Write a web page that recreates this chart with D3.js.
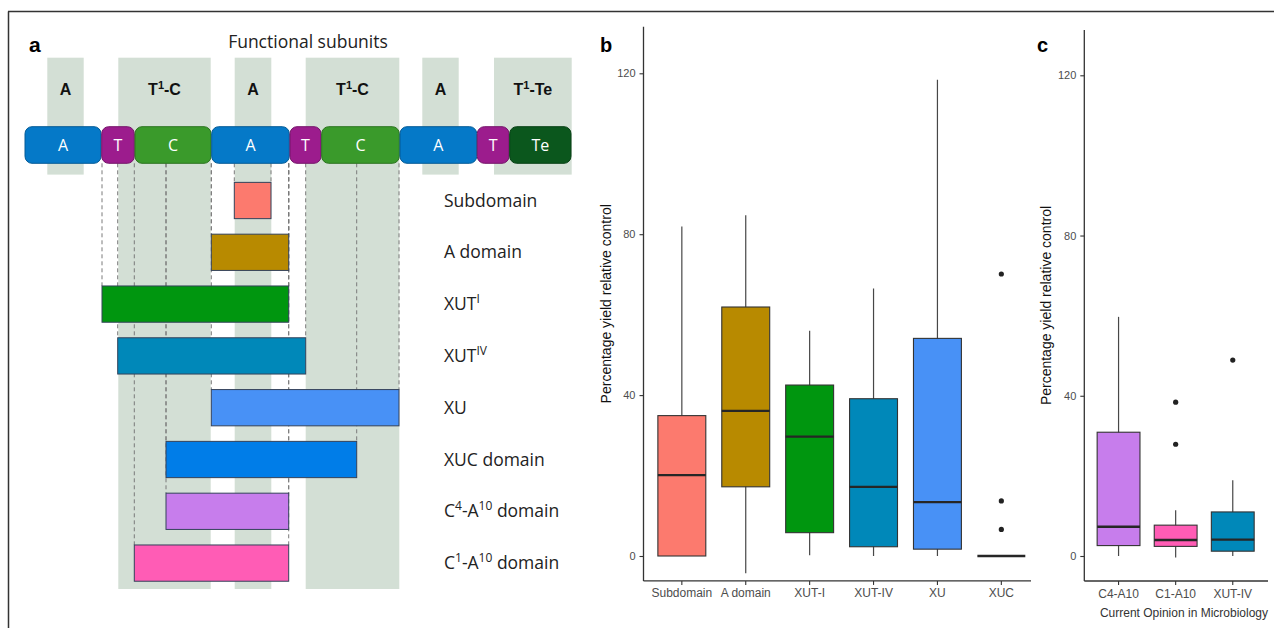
<!DOCTYPE html>
<html lang="en">
<head>
<meta charset="utf-8">
<title>subunit swaps</title>
<script src="https://d3js.org/d3.v7.min.js"></script>
<style>
  body { margin: 0; background: #fff; }
  .sans { font-family: "Open Sans", "Noto Sans", sans-serif; }
  .arial { font-family: "Liberation Sans", Arial, sans-serif; }
</style>
</head>
<body>
<div id="chart"></div>
<script>
var width = 1274, height = 628;

// ---- panel a data (positions along the assembly line, arbitrary units) ----
var partNames  = ["A", "T", "C", "A", "T", "C", "A", "T", "Te"];
var partStart  = [0, 76.7, 110, 186.7, 265, 296.7, 375, 452.3, 484.7];
var partEnd    = [76, 109.3, 186, 264.3, 296, 374.3, 451.7, 484, 546];
var partColors = {A: "#0579c8", T: "#9c1c8d", C: "#3a9a2b", Te: "#0b571d"};

var subunitNames = [[["A"]], [["T"], ["1", 1], ["-C"]], [["A"]], [["T"], ["1", 1], ["-C"]], [["A"]], [["T"], ["1", 1], ["-Te"]]];
var subunitStart = [22.3, 93.3, 209.7, 280.7, 397.3, 469];
var subunitEnd   = [58.7, 185.7, 246.3, 374.3, 433.7, 546.7];
var subunitLong  = [false, true, true, true, false, false];

var constructs = ["Subdomain", "A domain", "XUT-I", "XUT-IV", "XU", "XUC domain", "C4-A10 domain", "C1-A10 domain"];
var constructLabels = [
  [["Subdomain"]], [["A domain"]], [["XUT"], ["I", 1]], [["XUT"], ["IV", 1]], [["XU"]],
  [["XUC domain"]], [["C"], ["4", 1], ["-A"], ["10", 1], [" domain"]], [["C"], ["1", 1], ["-A"], ["10", 1], [" domain"]]
];
var constructStart  = [209.3, 186.3, 77, 92.7, 186.3, 141, 141, 109.3];
var constructEnd    = [246, 263.7, 263.7, 280.7, 374, 331.7, 263.7, 263.7];
var constructColors = ["#fc7a6e", "#b88a00", "#00960f", "#0088b9", "#4891f6", "#007de8", "#c77dec", "#ff5cb5"];

// ---- panel b data ----
var catsB   = ["Subdomain", "A domain", "XUT-I", "XUT-IV", "XU", "XUC"];
var lowB    = [0, -4.3, 0.2, 0, 0, 0];
var q1B     = [0, 17.2, 5.8, 2.3, 1.7, 0];
var medB    = [20.1, 36.1, 29.7, 17.2, 13.4, 0];
var q3B     = [34.9, 61.9, 42.5, 39.1, 54.1, 0];
var highB   = [81.9, 84.7, 56.0, 66.5, 118.4, 0];
var outB    = [[], [], [], [], [], [70.1, 13.7, 6.6]];
var colorsB = ["#fc7a6e", "#b88a00", "#00960f", "#0088b9", "#4891f6", "#4891f6"];

// ---- panel c data ----
var catsC   = ["C4-A10", "C1-A10", "XUT-IV"];
var lowC    = [0, -0.4, 0];
var q1C     = [2.6, 2.4, 1.2];
var medC    = [7.3, 4.0, 4.1];
var q3C     = [30.9, 7.7, 11.0];
var highC   = [59.7, 11.4, 18.9];
var outC    = [[], [38.4, 27.9], [48.9]];
var colorsC = ["#c77dec", "#ff5cb5", "#0088b9"];

var yTicks = [0, 40, 80, 120];

var svg = d3.select("#chart").append("svg")
  .attr("width", width).attr("height", height);

// outer frame (top and left rule)
svg.append("line").attr("x1", 8).attr("x2", width).attr("y1", 11.5).attr("y2", 11.5)
  .attr("stroke", "#333").attr("stroke-width", 1.5);
svg.append("line").attr("x1", 8.5).attr("x2", 8.5).attr("y1", 11.5).attr("y2", height)
  .attr("stroke", "#333").attr("stroke-width", 1.5);

// helper for text with superscripts
function richText(sel, parts, supSize, shift) {
  var prev = 0;
  parts.forEach(function(p) {
    var cur = p[1] ? -shift : 0;
    var t = sel.append("tspan").text(p[0]).attr("dy", cur - prev);
    if (p[1]) t.attr("font-size", supSize);
    prev = cur;
  });
}

// ================= panel a =================
var ax = d3.scaleLinear().domain([0, 546]).range([25, 571]);
var rowY = d3.scaleBand().domain(constructs).range([174.6, 589]).paddingInner(0.3).paddingOuter(0.15);
var pillTop = 126.7, pillBottom = 163.3, colTop = 57.7;

var ga = svg.append("g");

ga.selectAll("rect.col").data(subunitNames).enter().append("rect")
  .attr("class", "col")
  .attr("x", function(d, i) { return ax(subunitStart[i]); })
  .attr("width", function(d, i) { return ax(subunitEnd[i]) - ax(subunitStart[i]); })
  .attr("y", colTop)
  .attr("height", function(d, i) { return (subunitLong[i] ? rowY.range()[1] : rowY.range()[0]) - colTop; })
  .attr("fill", "#d3dfd5");

ga.selectAll("text.col").data(subunitNames).enter().append("text")
  .attr("class", "arial")
  .attr("x", function(d, i) { return (ax(subunitStart[i]) + ax(subunitEnd[i])) / 2; })
  .attr("y", 95)
  .attr("text-anchor", "middle")
  .attr("font-size", 16).attr("font-weight", "bold").attr("fill", "#111")
  .each(function(d) { richText(d3.select(this), d, 11, 6); });

// dashed guide lines from the module down to each construct
constructs.forEach(function(c, i) {
  [constructStart[i], constructEnd[i]].forEach(function(v) {
    ga.append("line")
      .attr("x1", ax(v)).attr("x2", ax(v))
      .attr("y1", pillBottom).attr("y2", rowY(c))
      .attr("stroke", "#7a7a7a").attr("stroke-width", 1).attr("stroke-dasharray", "4,3");
  });
});

// module pills
ga.selectAll("rect.part").data(partNames).enter().append("rect")
  .attr("x", function(d, i) { return ax(partStart[i]); })
  .attr("width", function(d, i) { return ax(partEnd[i]) - ax(partStart[i]); })
  .attr("y", pillTop).attr("height", pillBottom - pillTop)
  .attr("rx", 7).attr("ry", 7)
  .attr("fill", function(d) { return partColors[d]; })
  .attr("stroke", function(d) { return d3.color(partColors[d]).darker(0.8); })
  .attr("stroke-width", 1);

ga.selectAll("text.part").data(partNames).enter().append("text")
  .attr("class", "sans")
  .attr("x", function(d, i) { return (ax(partStart[i]) + ax(partEnd[i])) / 2; })
  .attr("y", (pillTop + pillBottom) / 2 + 6)
  .attr("text-anchor", "middle").attr("font-size", 16).attr("fill", "#fff")
  .text(function(d) { return d; });

// construct bars
ga.selectAll("rect.con").data(constructs).enter().append("rect")
  .attr("x", function(d, i) { return ax(constructStart[i]); })
  .attr("width", function(d, i) { return ax(constructEnd[i]) - ax(constructStart[i]); })
  .attr("y", function(d) { return rowY(d); })
  .attr("height", rowY.bandwidth())
  .attr("fill", function(d, i) { return constructColors[i]; })
  .attr("stroke", "#34425a").attr("stroke-width", 1);

ga.selectAll("text.con").data(constructs).enter().append("text")
  .attr("class", "sans")
  .attr("x", 444)
  .attr("y", function(d) { return rowY(d) + rowY.bandwidth() / 2 + 6; })
  .attr("font-size", 17.5).attr("fill", "#222")
  .each(function(d, i) { richText(d3.select(this), constructLabels[i], 12, 7); });

ga.append("text").attr("class", "sans")
  .attr("x", 308).attr("y", 48).attr("text-anchor", "middle")
  .attr("font-size", 17.5).attr("fill", "#222")
  .text("Functional subunits");

svg.append("text").attr("class", "arial").attr("x", 29).attr("y", 52)
  .attr("font-size", 21).attr("font-weight", "bold").text("a");

// ================= panels b and c =================
function boxPanel(o) {
  var x = d3.scaleBand().domain(o.cats).range(o.xr).paddingInner(0).paddingOuter(0.1);
  var y = d3.scaleLinear().domain([0, 120]).range(o.yr);
  var bw = x.bandwidth() * 0.75;
  var cx = function(d) { return x(d) + x.bandwidth() / 2; };
  var g = svg.append("g");
  var yBase = y(o.lim[0]);

  g.selectAll("line.wh").data(o.cats).enter().append("line")
    .attr("x1", cx).attr("x2", cx)
    .attr("y1", function(d, i) { return y(o.low[i]); })
    .attr("y2", function(d, i) { return y(o.high[i]); })
    .attr("stroke", "#474747").attr("stroke-width", 1.2);

  g.selectAll("rect.box").data(o.cats).enter().append("rect")
    .attr("x", function(d) { return cx(d) - bw / 2; })
    .attr("width", bw)
    .attr("y", function(d, i) { return y(o.q3[i]); })
    .attr("height", function(d, i) { return y(o.q1[i]) - y(o.q3[i]); })
    .attr("fill", function(d, i) { return o.colors[i]; })
    .attr("stroke", "#333").attr("stroke-width", 1.1);

  g.selectAll("line.med").data(o.cats).enter().append("line")
    .attr("x1", function(d) { return cx(d) - bw / 2; })
    .attr("x2", function(d) { return cx(d) + bw / 2; })
    .attr("y1", function(d, i) { return y(o.med[i]); })
    .attr("y2", function(d, i) { return y(o.med[i]); })
    .attr("stroke", "#262626").attr("stroke-width", 2.3);

  o.cats.forEach(function(c, i) {
    g.selectAll(null).data(o.out[i]).enter().append("circle")
      .attr("cx", cx(c)).attr("cy", function(v) { return y(v); })
      .attr("r", 2.6).attr("fill", "#222");
  });

  // axes
  var ya = g.append("g").attr("class", "arial").attr("transform", "translate(" + o.xr[0] + ",0)")
    .call(d3.axisLeft(y).tickValues(yTicks).tickSize(4).tickPadding(4));
  var xa = g.append("g").attr("class", "arial").attr("transform", "translate(0," + yBase + ")")
    .call(d3.axisBottom(x).tickSize(4).tickPadding(4));
  [ya, xa].forEach(function(a) {
    a.select(".domain").remove();
    a.selectAll(".tick line").attr("stroke", "#333").attr("stroke-width", 1.1);
    a.selectAll("text").attr("fill", "#4d4d4d").attr("font-family", "Liberation Sans, Arial, sans-serif");
  });
  ya.selectAll("text").attr("font-size", 11);
  xa.selectAll("text").attr("font-size", 12);

  g.append("line").attr("x1", o.xr[0]).attr("x2", o.xr[0])
    .attr("y1", yBase).attr("y2", y(o.lim[1]))
    .attr("stroke", "#333").attr("stroke-width", 1.3);
  g.append("line").attr("x1", o.xr[0]).attr("x2", o.xEnd)
    .attr("y1", yBase).attr("y2", yBase)
    .attr("stroke", "#333").attr("stroke-width", 1.3);

  g.append("text").attr("class", "arial")
    .attr("transform", "translate(" + (o.xr[0] - 33) + "," + (yBase + y(o.lim[1])) / 2 + ") rotate(-90)")
    .attr("text-anchor", "middle").attr("font-size", 14).attr("fill", "#111")
    .text("Percentage yield relative control");

  svg.append("text").attr("class", "arial")
    .attr("x", o.labelX).attr("y", 52)
    .attr("font-size", 20).attr("font-weight", "bold").text(o.label);
}

boxPanel({
  cats: catsB, low: lowB, q1: q1B, med: medB, q3: q3B, high: highB, out: outB, colors: colorsB,
  xr: [643.5, 643.5 + 6.2 * 63.9], xEnd: 1031, yr: [556, 73.3], lim: [-6.2, 131.6],
  label: "b", labelX: 600
});

boxPanel({
  cats: catsC, low: lowC, q1: q1C, med: medC, q3: q3C, high: highC, out: outC, colors: colorsC,
  xr: [1084.3, 1084.3 + 3.2 * 57.1], xEnd: 1268, yr: [556, 75.3], lim: [-6.24, 131.3],
  label: "c", labelX: 1037
});

svg.append("text").attr("class", "arial")
  .attr("x", 1268).attr("y", 617).attr("text-anchor", "end")
  .attr("font-size", 12).attr("fill", "#333")
  .text("Current Opinion in Microbiology");
</script>
</body>
</html>
